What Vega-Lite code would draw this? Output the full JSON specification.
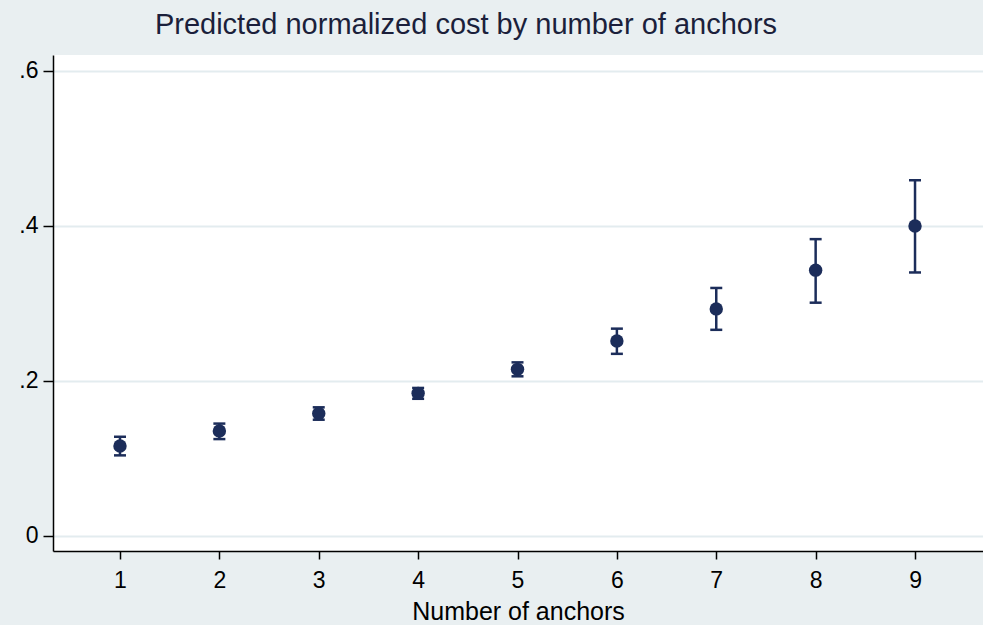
{
  "$schema": "https://vega.github.io/schema/vega-lite/v6.json",
  "width": 930,
  "height": 496,
  "autosize": {"type": "none"},
  "padding": {"left": 53, "top": 55, "right": 0, "bottom": 74},
  "background": "#E9EFF1",
  "config": {
    "view": {"fill": "white", "stroke": null},
    "font": "Liberation Sans"
  },
  "title": {
    "text": "Predicted normalized cost by number of anchors",
    "font": "Liberation Sans",
    "fontSize": 29,
    "fontWeight": "normal",
    "color": "#1B1F3B",
    "anchor": "middle",
    "dx": -52,
    "dy": 24,
    "baseline": "alphabetic",
    "offset": 16
  },
  "data": {
    "values": [
      {"anchors": 1, "cost": 0.116, "lo": 0.104, "hi": 0.128},
      {"anchors": 2, "cost": 0.1355, "lo": 0.125, "hi": 0.145},
      {"anchors": 3, "cost": 0.158, "lo": 0.150, "hi": 0.166},
      {"anchors": 4, "cost": 0.184, "lo": 0.177, "hi": 0.191},
      {"anchors": 5, "cost": 0.215, "lo": 0.206, "hi": 0.224},
      {"anchors": 6, "cost": 0.2515, "lo": 0.235, "hi": 0.2675},
      {"anchors": 7, "cost": 0.293, "lo": 0.266, "hi": 0.320},
      {"anchors": 8, "cost": 0.343, "lo": 0.301, "hi": 0.383},
      {"anchors": 9, "cost": 0.400, "lo": 0.340, "hi": 0.459}
    ]
  },
  "encoding": {
    "x": {
      "field": "anchors",
      "type": "quantitative",
      "scale": {"domain": [0.326, 9.684], "nice": false, "zero": false},
      "axis": {
        "values": [1, 2, 3, 4, 5, 6, 7, 8, 9],
        "title": "Number of anchors",
        "titleFontSize": 25,
        "titleFontWeight": "normal",
        "titleColor": "black",
        "titlePadding": 7,
        "labelFontSize": 23,
        "labelColor": "black",
        "labelPadding": 10,
        "tickSize": 8,
        "tickColor": "black",
        "tickWidth": 1.5,
        "domainColor": "black",
        "domainWidth": 1.5,
        "grid": false
      }
    }
  },
  "layer": [
    {
      "mark": {"type": "rule", "color": "#1C2D5A", "strokeWidth": 2.5},
      "encoding": {
        "y": {
          "field": "lo",
          "type": "quantitative",
          "scale": {"domain": [-0.0194, 0.6206], "nice": false, "zero": false},
          "axis": {
            "values": [0, 0.2, 0.4, 0.6],
            "labelExpr": "datum.value == 0 ? '0' : replace(format(datum.value, '.1f'), '0.', '.')",
            "title": null,
            "labelFontSize": 23,
            "labelColor": "black",
            "labelPadding": 5,
            "tickSize": 10,
            "tickColor": "black",
            "tickWidth": 1.5,
            "domainColor": "black",
            "domainWidth": 1.5,
            "grid": true,
            "gridColor": "#E3ECEF",
            "gridWidth": 2
          }
        },
        "y2": {"field": "hi"}
      }
    },
    {
      "mark": {"type": "tick", "orient": "horizontal", "color": "#1C2D5A", "size": 12, "thickness": 2.5, "opacity": 1},
      "encoding": {"y": {"field": "lo", "type": "quantitative"}}
    },
    {
      "mark": {"type": "tick", "orient": "horizontal", "color": "#1C2D5A", "size": 12, "thickness": 2.5, "opacity": 1},
      "encoding": {"y": {"field": "hi", "type": "quantitative"}}
    },
    {
      "mark": {"type": "point", "shape": "circle", "filled": true, "color": "#1C2D5A", "size": 180, "opacity": 1},
      "encoding": {"y": {"field": "cost", "type": "quantitative"}}
    }
  ]
}
